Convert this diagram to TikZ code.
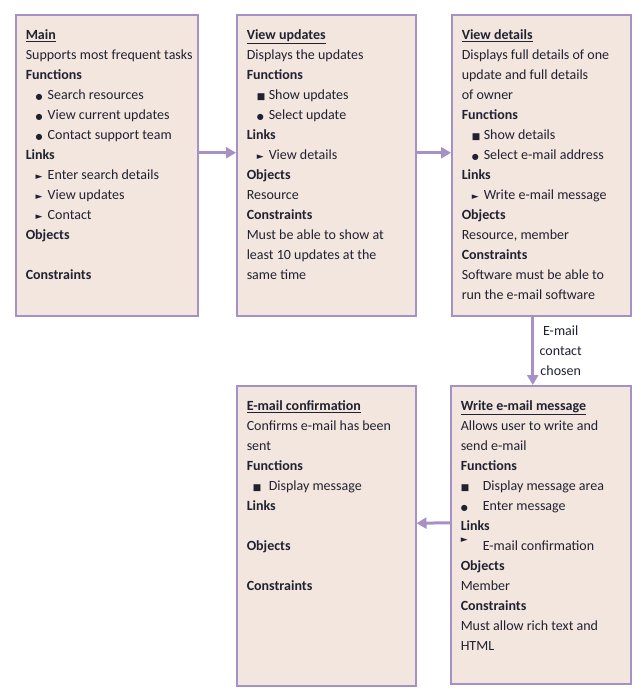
\documentclass[tikz,border=0pt]{standalone}
\usepackage{fontspec}
\setmainfont{Carlito}
\newfontfamily\symfont{DejaVu Sans}
\usetikzlibrary{arrows.meta}
\definecolor{boxfill}{HTML}{F3E6DF}
\definecolor{boxline}{HTML}{A591C6}
\definecolor{txt}{HTML}{202232}
\newcommand{\ttl}[1]{\textbf{\underline{#1}}}
\newcommand{\hd}[1]{\textbf{#1}}
\newcommand{\dotb}{{\symfont\fontsize{8}{8}\selectfont ●}}
\newcommand{\sqb}{{\symfont\fontsize{9}{9}\selectfont ■}}
\newcommand{\trib}{{\symfont\fontsize{9}{9}\selectfont ►}}
\newcommand{\itm}[3][10pt]{\makebox[22pt][l]{\hspace*{#1}#2}#3}
\newcommand{\boxtext}[3]{\parbox[t][#1][t]{#2}{\raggedright\leftskip=10pt\fontsize{14}{20}\selectfont\color{txt}\rule{0pt}{25pt}#3}}
\begin{document}
\begin{tikzpicture}[x=1pt,y=-1pt,
  card/.style={draw=boxline,fill=boxfill,line width=1.5pt,anchor=north west,inner sep=0pt},
  arr/.style={draw=boxline,line width=3pt,-{Triangle[length=10pt,width=11pt]}},
  lbl/.style={align=center,font=\fontsize{14}{20}\selectfont,text=txt}]
\useasboundingbox (0,0) rectangle (640,688);
\fill[white] (0,0) rectangle (640,688);

\node[card,minimum width=182pt,minimum height=301pt] (b1) at (15,14) {\boxtext{301pt}{182pt}{%
\ttl{Main}\\
Supports most frequent tasks\\
\hd{Functions}\\
\itm{\dotb}{Search resources}\\
\itm{\dotb}{View current updates}\\
\itm{\dotb}{Contact support team}\\
\hd{Links}\\
\itm{\trib}{Enter search details}\\
\itm{\trib}{View updates}\\
\itm{\trib}{Contact}\\
\hd{Objects}\\
\mbox{}\\
\hd{Constraints}}};

\node[card,minimum width=179pt,minimum height=301pt] (b2) at (236,14) {\boxtext{301pt}{179pt}{%
\ttl{View updates}\\
Displays the updates\\
\hd{Functions}\\
\itm{\sqb}{Show updates}\\
\itm{\dotb}{Select update}\\
\hd{Links}\\
\itm{\trib}{View details}\\
\hd{Objects}\\
Resource\\
\hd{Constraints}\\
Must be able to show at\\
least 10 updates at the\\
same time}};

\node[card,minimum width=179pt,minimum height=301pt] (b3) at (451,14) {\boxtext{301pt}{179pt}{%
\ttl{View details}\\
Displays full details of one\\
update and full details\\
of owner\\
\hd{Functions}\\
\itm{\sqb}{Show details}\\
\itm{\dotb}{Select e-mail address}\\
\hd{Links}\\
\itm{\trib}{Write e-mail message}\\
\hd{Objects}\\
Resource, member\\
\hd{Constraints}\\
Software must be able to\\
run the e-mail software}};

\node[card,minimum width=179pt,minimum height=300pt] (b4) at (236,385) {\boxtext{300pt}{179pt}{%
\ttl{E-mail confirmation}\\
Confirms e-mail has been\\
sent\\
\hd{Functions}\\
\itm[6pt]{\sqb}{Display message}\\
\hd{Links}\\
\mbox{}\\
\hd{Objects}\\
\mbox{}\\
\hd{Constraints}}};

\node[card,minimum width=180pt,minimum height=298pt] (b5) at (450,385) {\boxtext{298pt}{180pt}{%
\ttl{Write e-mail message}\\
Allows user to write and\\
send e-mail\\
\hd{Functions}\\
\itm[0pt]{\sqb}{Display message area}\\
\itm[0pt]{\dotb}{Enter message}\\
\hd{Links}\\
\itm[0pt]{\raisebox{8pt}{\trib}}{E-mail confirmation}\\
\hd{Objects}\\
Member\\
\hd{Constraints}\\
Must allow rich text and\\
HTML}};

\draw[arr] ([yshift=12.5pt]b1.east) -- ([yshift=12.5pt]b2.west);
\draw[arr] ([yshift=12.5pt]b2.east) -- ([yshift=12.5pt]b3.west);
\draw[arr] ([xshift=-8.5pt]b3.south) -- node[lbl,anchor=west,xshift=2pt] (l1) {E-mail\\contact\\chosen} ([xshift=-8pt]b5.north);
\draw[arr] ([yshift=12pt]b5.west) -- ([yshift=12.5pt]b4.east);
\end{tikzpicture}
\end{document}
